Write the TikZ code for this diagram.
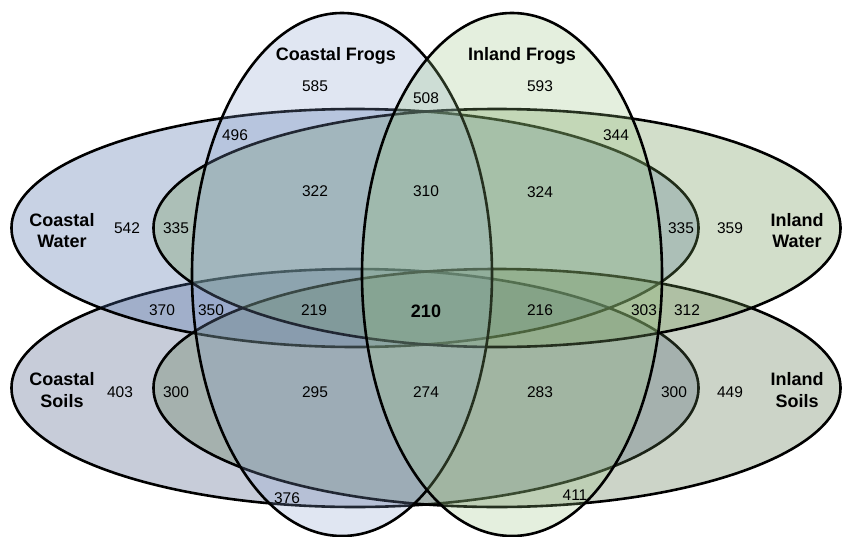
\documentclass[tikz,border=0pt]{standalone}
\usepackage{fontspec}
\setmainfont{Liberation Sans}
\definecolor{cwC}{RGB}{75,108,168}
\definecolor{iwC}{RGB}{108,148,82}
\definecolor{csC}{RGB}{72,88,132}
\definecolor{isC}{RGB}{88,115,75}
\definecolor{cfC}{RGB}{135,159,207}
\definecolor{ifC}{RGB}{151,195,127}
\begin{document}
\begin{tikzpicture}[x=1pt,y=-1pt,
  setbig/.style={draw=black, line width=2.6pt, fill opacity=0.3},
  setfrog/.style={draw=black, line width=2.6pt, fill opacity=0.25},
  num/.style={anchor=base, inner sep=0pt, font=\fontsize{15.5}{18}\selectfont},
  numb/.style={anchor=base, inner sep=0pt, font=\fontsize{18}{21}\selectfont\bfseries},
  lab/.style={align=center, inner sep=0pt, font=\fontsize{18}{21.5}\selectfont\bfseries}]
\useasboundingbox (0,0) rectangle (844,536);
\fill[white] (0,0) rectangle (844,536);
% sets
\draw[setbig, fill=csC] (355,388) ellipse [x radius=343.5pt, y radius=119pt];
\draw[setbig, fill=cwC] (355,228) ellipse [x radius=343.5pt, y radius=119pt];
\draw[setbig, fill=isC] (497,388) ellipse [x radius=343.5pt, y radius=119pt];
\draw[setbig, fill=iwC] (497,228) ellipse [x radius=343.5pt, y radius=119pt];
\draw[setfrog, fill=cfC] (342,274.5) ellipse [x radius=150pt, y radius=261.5pt];
\draw[setfrog, fill=ifC] (512,274.5) ellipse [x radius=150pt, y radius=261.5pt];
% labels
\node[lab, anchor=base] (lcf) at (336,60.7) {Coastal Frogs};
\node[lab, anchor=base] (lif) at (522,60.5) {Inland Frogs};
\node[lab] (lcw) at (62,230.7) {Coastal\\Water};
\node[lab] (liw) at (797,230.7) {Inland\\Water};
\node[lab] (lcs) at (62,390.3) {Coastal\\Soils};
\node[lab] (lis) at (797,390.3) {Inland\\Soils};
% numbers
\node[num] (n585) at (315,91.5) {585};
\node[num] (n593) at (540,91.5) {593};
\node[num] (n508) at (426,103.5) {508};
\node[num] (n496) at (235,140) {496};
\node[num] (n344) at (616,140) {344};
\node[num] (n322) at (315,196.7) {322};
\node[num] (n310) at (426,196.7) {310};
\node[num] (n324) at (540,197.5) {324};
\node[num] (n542) at (127,233.5) {542};
\node[num] (n335a) at (176,233.5) {335};
\node[num] (n335b) at (681,233.5) {335};
\node[num] (n359) at (730,233.5) {359};
\node[num] (n370) at (162,315) {370};
\node[num] (n350) at (211,315) {350};
\node[num] (n219) at (314,315) {219};
\node[numb] (n210) at (426,317) {210};
\node[num] (n216) at (540,315) {216};
\node[num] (n303) at (644,315) {303};
\node[num] (n312) at (687,315) {312};
\node[num] (n403) at (120,397.5) {403};
\node[num] (n300a) at (176,397.5) {300};
\node[num] (n295) at (315,397.5) {295};
\node[num] (n274) at (426,397.5) {274};
\node[num] (n283) at (540,397.5) {283};
\node[num] (n300b) at (674,397.5) {300};
\node[num] (n449) at (730,397.5) {449};
\node[num] (n376) at (287,503) {376};
\node[num] (n411) at (575,500.5) {411};
\end{tikzpicture}
\end{document}
